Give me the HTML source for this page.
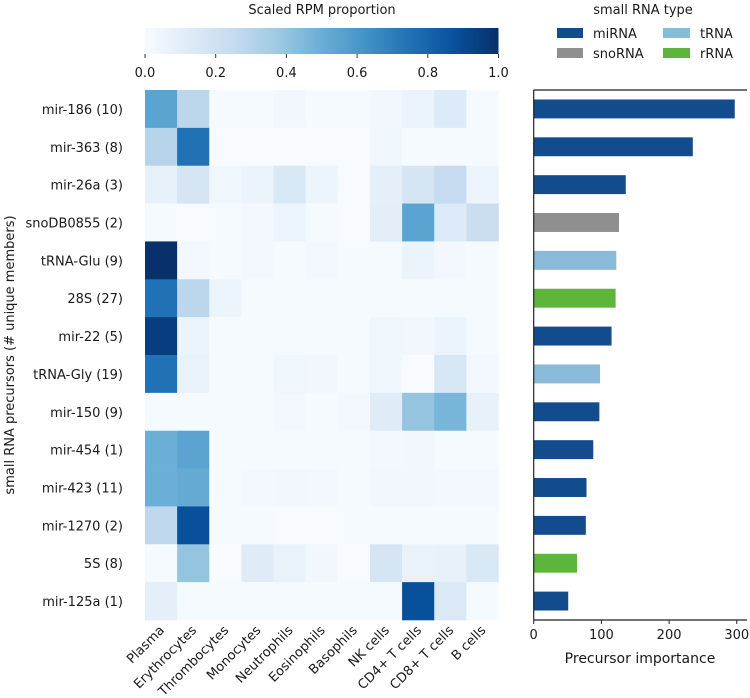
<!DOCTYPE html>
<html><head><meta charset="utf-8"><style>
body{margin:0;background:#fff;font-family:"DejaVu Sans","Liberation Sans",sans-serif;}
svg text{font-family:"DejaVu Sans","Liberation Sans",sans-serif;fill:#1a1a1a;}
</style></head><body>
<svg id="chart" width="750" height="694" xmlns="http://www.w3.org/2000/svg">
<defs><linearGradient id="cbg" x1="0" x2="1" y1="0" y2="0">
<stop offset="0" stop-color="#f7fbff"/><stop offset="0.125" stop-color="#deebf7"/><stop offset="0.25" stop-color="#c6dbef"/><stop offset="0.375" stop-color="#9ecae1"/><stop offset="0.5" stop-color="#6baed6"/><stop offset="0.625" stop-color="#4292c6"/><stop offset="0.75" stop-color="#2171b5"/><stop offset="0.875" stop-color="#08519c"/><stop offset="1" stop-color="#08306b"/>
</linearGradient></defs>
<text x="322" y="14" font-size="13" text-anchor="middle">Scaled RPM proportion</text>
<rect x="145" y="28" width="353.5" height="26" fill="url(#cbg)"/>
<g id="cbticks"></g>
<text x="643" y="14" font-size="13" text-anchor="middle">small RNA type</text>
<g>
<rect x="557" y="28" width="26" height="10" fill="#124c8c"/>
<text x="593" y="38" font-size="13">miRNA</text>
<rect x="663" y="28" width="27" height="10" fill="#89bad9"/>
<text x="700" y="38" font-size="13">tRNA</text>
<rect x="557" y="48" width="26" height="10" fill="#8f8f8f"/>
<text x="593" y="58" font-size="13">snoRNA</text>
<rect x="663" y="48" width="27" height="10" fill="#5db53c"/>
<text x="700" y="58" font-size="13">rRNA</text>
</g>
<g id="heat"></g>
<g id="bars"></g>
<text transform="translate(14,355) rotate(-90)" font-size="13" text-anchor="middle">small RNA precursors (# unique members)</text>
<text x="640" y="663" font-size="14" text-anchor="middle">Precursor importance</text>
</svg>
<script>
const rows=["mir-186 (10)","mir-363 (8)","mir-26a (3)","snoDB0855 (2)","tRNA-Glu (9)","28S (27)","mir-22 (5)","tRNA-Gly (19)","mir-150 (9)","mir-454 (1)","mir-423 (11)","mir-1270 (2)","5S (8)","mir-125a (1)"];
const cols=["Plasma","Erythrocytes","Thrombocytes","Monocytes","Neutrophils","Eosinophils","Basophils","NK cells","CD4+ T cells","CD8+ T cells","B cells"];
const heat=[
[0.55,0.28,0.01,0.01,0.03,0.01,0.01,0.03,0.06,0.13,0.01],
[0.3,0.75,0,0,0,0,0,0.04,0.01,0.01,0.01],
[0.08,0.17,0.04,0.06,0.15,0.05,0.0,0.09,0.17,0.25,0.05],
[0.01,0.0,0.01,0.02,0.05,0.01,0.0,0.1,0.55,0.13,0.23],
[1.0,0.02,0.01,0.02,0.01,0.02,0.01,0.01,0.06,0.02,0.01],
[0.75,0.28,0.05,0.01,0.01,0.01,0.01,0.01,0.01,0.01,0.01],
[0.95,0.06,0.01,0.01,0.01,0.01,0.01,0.04,0.03,0.06,0.01],
[0.75,0.07,0.01,0.01,0.04,0.03,0.01,0.04,0.0,0.16,0.02],
[0.01,0.01,0.01,0.01,0.02,0.01,0.02,0.12,0.4,0.47,0.08],
[0.5,0.55,0.01,0.01,0.01,0.01,0.01,0.02,0.03,0.01,0.01],
[0.5,0.52,0.01,0.02,0.03,0.02,0.01,0.03,0.03,0.02,0.02],
[0.27,0.88,0.01,0.01,0.0,0.0,0.01,0.01,0.01,0.01,0.01],
[0.01,0.4,0.0,0.12,0.07,0.03,0.0,0.17,0.07,0.08,0.15],
[0.09,0.01,0.01,0.01,0.01,0.01,0.01,0.01,0.88,0.14,0.01]];
const importance=[297,235,136,126,122,121,115,98,97,88,78,77,64,51];
const types=["miRNA","miRNA","miRNA","snoRNA","tRNA","rRNA","miRNA","tRNA","miRNA","miRNA","miRNA","miRNA","rRNA","miRNA"];
const cbTicks=[0,0.2,0.4,0.6,0.8,1.0];
const barTicks=[0,100,200,300];
const typeColor={miRNA:"#124c8c",tRNA:"#89bad9",snoRNA:"#8f8f8f",rRNA:"#5db53c"};
const NS="http://www.w3.org/2000/svg";
const stops=[[247,251,255],[222,235,247],[198,219,239],[158,202,225],[107,174,214],[66,146,198],[33,113,181],[8,81,156],[8,48,107]];
function blues(v){v=Math.max(0,Math.min(1,v));const p=v*8,i=Math.min(7,Math.floor(p)),t=p-i;const a=stops[i],b=stops[i+1];return "rgb("+a.map((c,k)=>Math.round(c+(b[k]-c)*t)).join(",")+")";}
function mk(tag,at,parent,txt){const e=document.createElementNS(NS,tag);for(const k in at)e.setAttribute(k,at[k]);if(txt!=null)e.textContent=txt;parent.appendChild(e);return e;}
const hx0=145,hx1=498.5,hy0=90,hy1=620;
const cw=(hx1-hx0)/cols.length,rh=(hy1-hy0)/rows.length;
const cx=v=>hx0+v*(hx1-hx0);
const cb=document.getElementById('cbticks');
cbTicks.forEach(t=>{mk('line',{x1:cx(t),x2:cx(t),y1:54,y2:58,stroke:'#333'},cb);const e=mk('text',{x:cx(t),y:77,'font-size':13,'text-anchor':'middle'},cb,t.toFixed(1));});
const hg=document.getElementById('heat');
rows.forEach((r,i)=>{
 const l=mk('text',{x:hx0-22,y:hy0+rh*(i+0.5)+5,'font-size':13,'text-anchor':'end'},hg,r);
 
 
 cols.forEach((c,j)=>{const e=mk('rect',{x:hx0+j*cw,y:hy0+i*rh,width:cw+0.3,height:rh+0.3,fill:blues(heat[i][j])},hg);
 
 });
});
cols.forEach((c,j)=>{const x=hx0+cw*(j+0.5)+4,y=hy1+11;
 const e=mk('text',{x:x,y:y,'font-size':13,'text-anchor':'end',transform:'rotate(-45 '+x+' '+y+')'},hg,c);
 
 });
const bx0=533.7,bpx=0.677;
const bx=v=>bx0+v*bpx;
const bg=document.getElementById('bars');
importance.forEach((v,i)=>{const e=mk('rect',{x:bx0,y:hy0+rh*i+rh*0.25,width:bx(v)-bx0,height:rh*0.5,fill:typeColor[types[i]]},bg);
 
 });
mk('line',{x1:bx0,x2:bx0,y1:hy0,y2:hy1,stroke:'#222','stroke-width':1.2},bg);
mk('line',{x1:bx0,x2:747,y1:hy0,y2:hy0,stroke:'#222','stroke-width':1.2},bg);
mk('line',{x1:bx0,x2:747,y1:hy1,y2:hy1,stroke:'#222','stroke-width':1.2},bg);
barTicks.forEach(t=>{mk('line',{x1:bx(t),x2:bx(t),y1:hy1,y2:hy1+4,stroke:'#222'},bg);
 const e=mk('text',{x:bx(t),y:hy1+19,'font-size':13,'text-anchor':'middle'},bg,String(t));
 
 });
</script>
</body></html>
